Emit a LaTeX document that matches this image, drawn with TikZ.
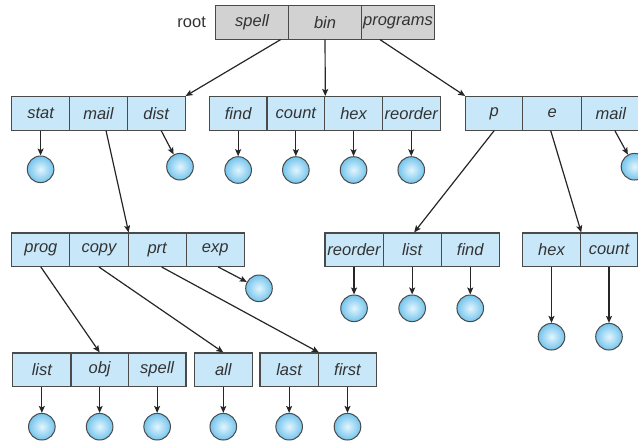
\documentclass[tikz,border=0pt]{standalone}
\usepackage{fontspec}
\setmainfont{Liberation Sans}
\usetikzlibrary{arrows.meta,calc}
\definecolor{bd}{HTML}{4A4A4A}
\definecolor{tx}{HTML}{333333}
\definecolor{cb}{HTML}{C8E8FA}
\definecolor{gb}{HTML}{D2D2D2}
\definecolor{ci}{HTML}{E2F5FE}
\definecolor{co}{HTML}{74C4EC}
\begin{document}
\begin{tikzpicture}[x=1pt,y=-1pt,
  cell/.style={draw=bd,fill=cb,line width=1.1pt,minimum height=33.5pt,inner sep=0pt,
    text=tx,font=\fontsize{16.5}{19}\selectfont\itshape},
  rootcell/.style={cell,fill=gb},
  leaf/.style={circle,draw=bd,line width=1pt,minimum size=26.6pt,inner sep=0pt,
    inner color=ci,outer color=co},
  link/.style={draw=black!85,line width=1.2pt,-{Stealth[length=7pt,width=6pt,inset=1.5pt]}},
  lbl/.style={text=tx,font=\fontsize{16.5}{19}\selectfont}]
\useasboundingbox (0,0) rectangle (638,440);
\clip (0,0) rectangle (638,440);
% root
\node[lbl] (rootlbl) at (191.7,22.3) {root};
\node[rootcell,minimum width=72.9pt] (r1) at (252.15,22.3) {spell};
\node[rootcell,minimum width=72.9pt] (r2) at (325.05,22.3) {bin};
\node[rootcell,minimum width=72.9pt] (r3) at (397.95,22.3) {programs};
% row 2
\node[cell,minimum width=57.8pt] (a1) at (40.6,113.3) {stat};
\node[cell,minimum width=57.8pt] (a2) at (98.4,113.3) {mail};
\node[cell,minimum width=57.8pt] (a3) at (156.2,113.3) {dist};
\node[cell,minimum width=57.7pt] (b1) at (238.15,113.3) {find};
\node[cell,minimum width=57.7pt] (b2) at (295.85,113.3) {count};
\node[cell,minimum width=57.7pt] (b3) at (353.55,113.3) {hex};
\node[cell,minimum width=57.7pt] (b4) at (411.25,113.3) {reorder};
\node[cell,minimum width=57pt] (c1) at (494.2,113.3) {p};
\node[cell,minimum width=59pt] (c2) at (552.2,113.3) {e};
\node[cell,minimum width=58.3pt] (c3) at (610.85,113.3) {mail};
% row 3
\node[cell,minimum width=58.15pt] (d1) at (40.85,249.7) {prog};
\node[cell,minimum width=58.15pt] (d2) at (99.0,249.7) {copy};
\node[cell,minimum width=58.15pt] (d3) at (157.15,249.7) {prt};
\node[cell,minimum width=58.15pt] (d4) at (215.3,249.7) {exp};
\node[cell,minimum width=58.1pt] (f1) at (354.05,249.7) {reorder};
\node[cell,minimum width=58.1pt] (f2) at (412.15,249.7) {list};
\node[cell,minimum width=58.1pt] (f3) at (470.25,249.7) {find};
\node[cell,minimum width=58.4pt] (g1) at (551.5,249.7) {hex};
\node[cell,minimum width=56.6pt] (g2) at (609.0,249.7) {count};
% row 4
\node[cell,minimum width=58.3pt] (h1) at (41.85,369.7) {list};
\node[cell,minimum width=57.3pt] (h2) at (99.65,369.7) {obj};
\node[cell,minimum width=57.7pt] (h3) at (157.15,369.7) {spell};
\node[cell,minimum width=58pt] (i1) at (223.3,369.7) {all};
\node[cell,minimum width=58.3pt] (j1) at (289.15,369.7) {last};
\node[cell,minimum width=58.4pt] (j2) at (347.5,369.7) {first};
% leaves
\node[leaf] (la1) at (40.6,169.3) {};
\node[leaf] (la3) at (180,166.7) {};
\node[leaf] (lb1) at (238.15,170) {};
\node[leaf] (lb2) at (295.85,170) {};
\node[leaf] (lb3) at (353.55,170) {};
\node[leaf] (lb4) at (411.25,170) {};
\node[leaf] (lc3) at (634.5,166.7) {};
\node[leaf] (ld4) at (259,288.3) {};
\node[leaf] (lf1) at (354.05,308.3) {};
\node[leaf] (lf2) at (412.15,308.3) {};
\node[leaf] (lf3) at (470.25,308.3) {};
\node[leaf] (lg1) at (551.5,336.7) {};
\node[leaf] (lg2) at (609.0,336.7) {};
\node[leaf] (lh1) at (41.85,426.7) {};
\node[leaf] (lh2) at (99.65,426.7) {};
\node[leaf] (lh3) at (157.15,426.7) {};
\node[leaf] (li1) at (223.3,426.7) {};
\node[leaf] (lj1) at (289.15,426.7) {};
\node[leaf] (lj2) at (347.5,426.7) {};
% links from root
\draw[link] ($(r1.south)+(28.5,0)$) -- (a3.north east);
\draw[link] (r2.south) -- (b2.north east);
\draw[link] ($(r3.south)+(-18,0)$) -- (c1.north west);
% row 2 links
\draw[link] (a1.south) -- (la1);
\draw[link] ($(a3.south)+(5,0)$) -- (la3);
\draw[link] ($(a2.south)+(7.6,0)$) -- (d2.north east);
\draw[link] (b1.south) -- (lb1);
\draw[link] (b2.south) -- (lb2);
\draw[link] (b3.south) -- (lb3);
\draw[link] (b4.south) -- (lb4);
\draw[link] (c1.south) -- ($(f2.north)+(2,0)$);
\draw[link] ($(c2.south)+(-1.5,0)$) -- (g1.north east);
\draw[link] ($(c3.south)+(4,0)$) -- (lc3);
% row 3 links
\draw[link] (d1.south) -- (h2.north);
\draw[link] (d2.south) -- (i1.north);
\draw[link] ($(d3.south)+(4.5,0)$) -- (j1.north east);
\draw[link] ($(d4.south)+(3,0)$) -- (ld4);
\draw[link] (f1.south) -- (lf1);
\draw[link] (f2.south) -- (lf2);
\draw[link] (f3.south) -- (lf3);
\draw[link] (g1.south) -- (lg1);
\draw[link] (g2.south) -- (lg2);
% row 4 links
\draw[link] (h1.south) -- (lh1);
\draw[link] (h2.south) -- (lh2);
\draw[link] (h3.south) -- (lh3);
\draw[link] (i1.south) -- (li1);
\draw[link] (j1.south) -- (lj1);
\draw[link] (j2.south) -- (lj2);
\end{tikzpicture}
\end{document}
